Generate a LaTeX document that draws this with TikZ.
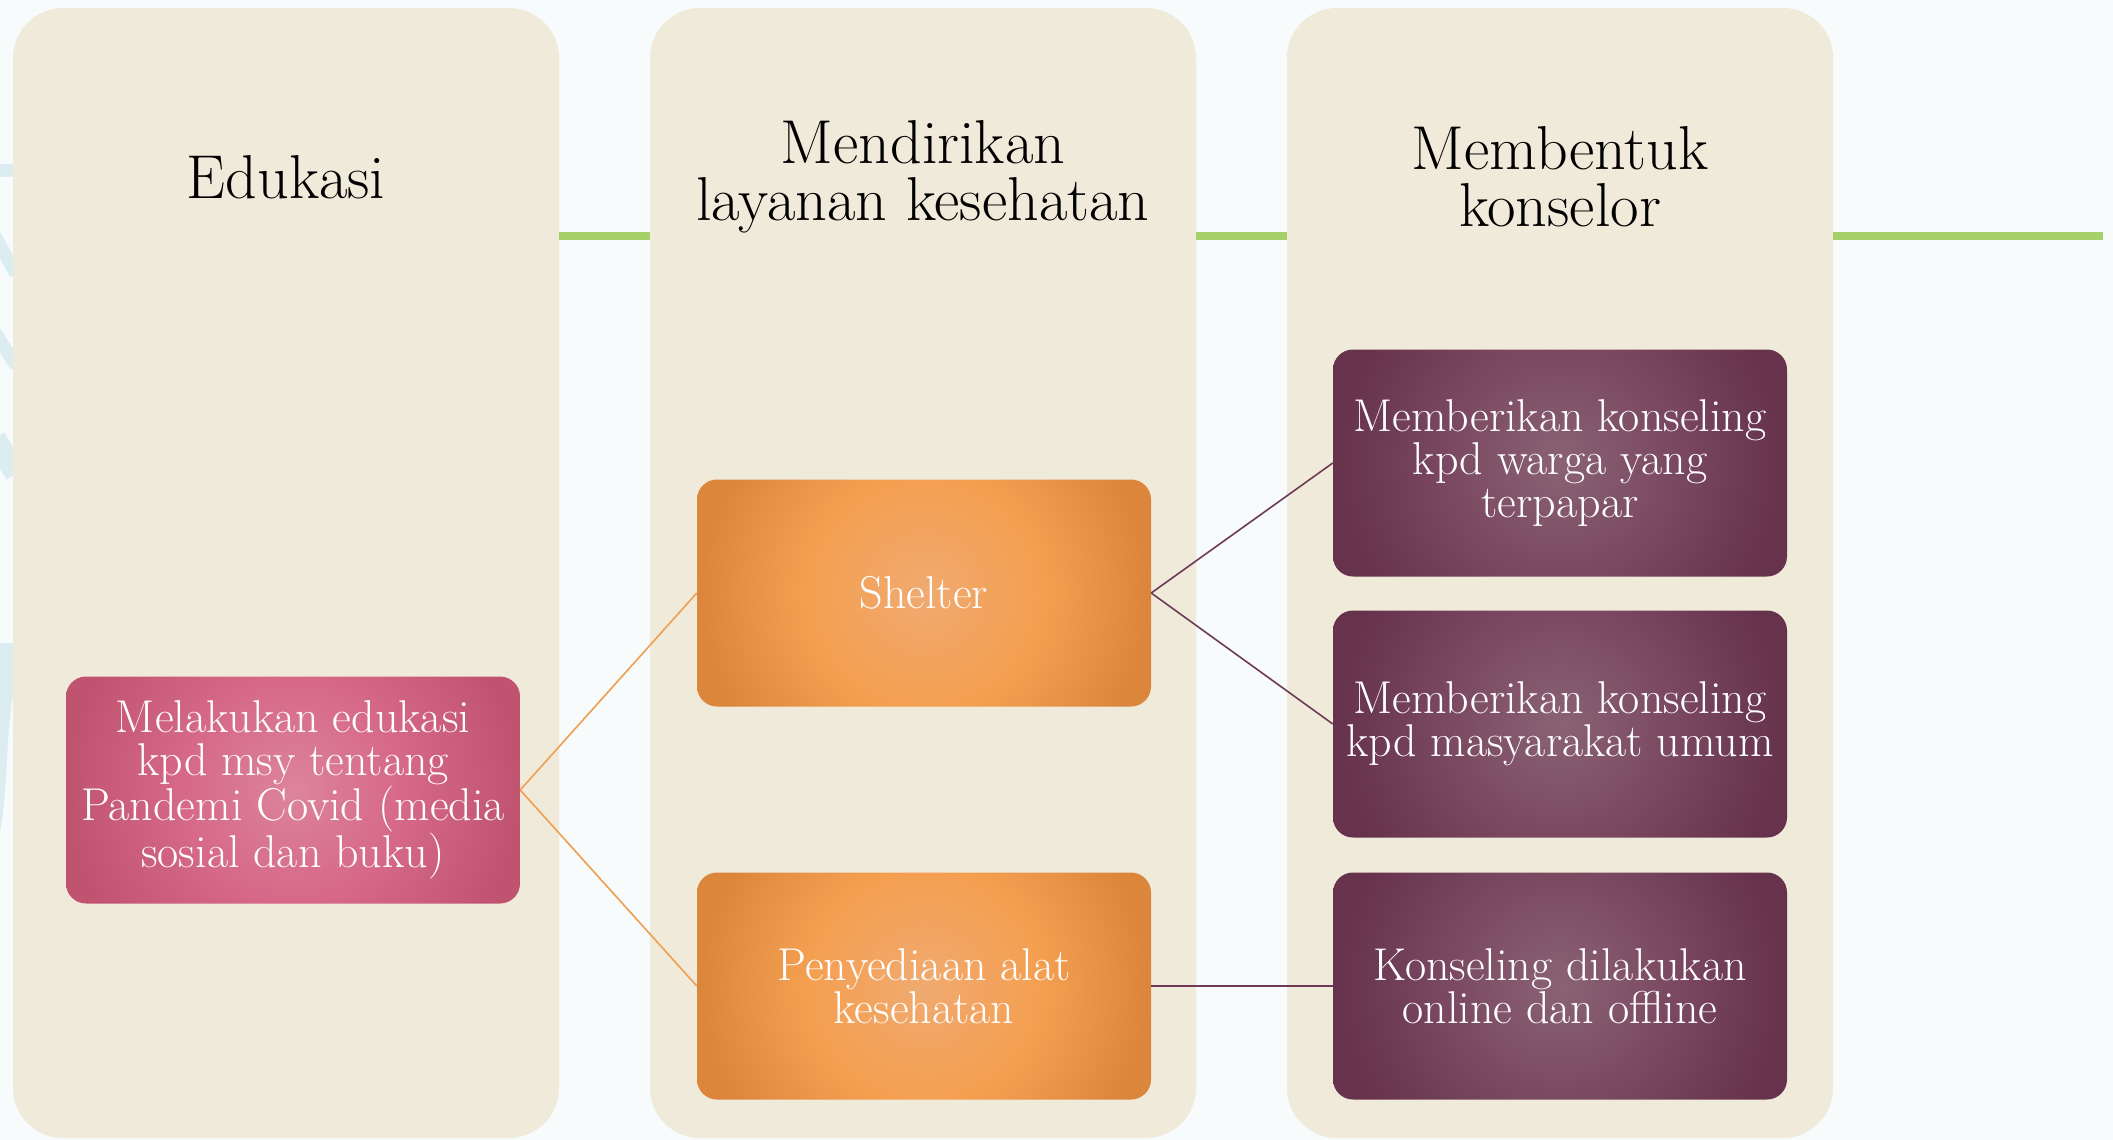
\documentclass[tikz,border=0pt]{standalone}
\usepackage{fontspec}
\usetikzlibrary{positioning}

\definecolor{bgcol}{RGB}{247,251,252}
\definecolor{panelcol}{RGB}{240,234,218}
\definecolor{linegreen}{RGB}{166,209,106}
\definecolor{decocol}{RGB}{219,237,241}
\definecolor{pinkedge}{RGB}{192,84,112}
\definecolor{pinkmid}{RGB}{214,104,136}
\definecolor{pinkcen}{RGB}{220,132,154}
\definecolor{oredge}{RGB}{220,134,60}
\definecolor{ormid}{RGB}{244,159,80}
\definecolor{orcen}{RGB}{240,170,112}
\definecolor{puedge}{RGB}{102,50,76}
\definecolor{pumid}{RGB}{122,72,96}
\definecolor{pucen}{RGB}{138,98,116}
\definecolor{orline}{RGB}{240,158,80}
\definecolor{puline}{RGB}{110,58,85}

\pgfdeclareradialshading{pinkglow}{\pgfpoint{0bp}{0bp}}{color(0bp)=(pinkcen); color(11bp)=(pinkmid); color(22bp)=(pinkedge); color(50bp)=(pinkedge)}
\pgfdeclareradialshading{orangeglow}{\pgfpoint{0bp}{0bp}}{color(0bp)=(orcen); color(11.5bp)=(ormid); color(22bp)=(oredge); color(50bp)=(oredge)}
\pgfdeclareradialshading{purpleglow}{\pgfpoint{0bp}{0bp}}{color(0bp)=(pucen); color(11.5bp)=(pumid); color(22bp)=(puedge); color(50bp)=(puedge)}

\begin{document}
\begin{tikzpicture}[
    x = 1pt,
    y = -1pt,
    panel/.style = {
      fill = panelcol,
      rounded corners = 50,
      minimum width = 546,
      minimum height = 1130,
      inner sep = 0pt
    },
    title/.style = {
      text = black,
      align = center,
      inner sep = 0pt,
      font = \fontsize{62}{57}\selectfont
    },
    glow/.style = {
      path picture = {
        \shade[shading = #1] (path picture bounding box.center) circle [radius = 254pt];
      }
    },
    box/.style = {
      rounded corners = 20,
      minimum width = 454,
      minimum height = 227,
      inner sep = 0pt,
      text = white,
      align = center,
      font = \fontsize{46}{43}\selectfont
    },
    pinkbox/.style = {box, glow = pinkglow},
    orbox/.style = {box, glow = orangeglow},
    pubox/.style = {box, glow = purpleglow},
    greenline/.style = {linegreen, line width = 8},
    deco/.style = {decocol, line width = 13}
  ]
  \useasboundingbox (0,0) rectangle (2113,1140);
  \fill[bgcol] (0,0) rectangle (2113,1140);

  % faint swirls at the left edge
  \scope
    \clip (0,0) rectangle (14,1140);
    \draw[deco] (-20,176) .. controls (0,170) .. (16,170);
    \draw[deco] (-5,236) -- (16,274);
    \draw[deco] (-5,332) -- (16,366);
    \draw[deco, line width = 22] (-5,438) -- (16,474);
    \fill[decocol] (-5,643) -- (16,643) -- (16,690) -- (14,690)
      .. controls (4,740) and (10,800) .. (-5,855) -- cycle;
  \endscope

  % columns
  \node[panel] (edu) at (286,573) {};
  \node[panel] (layanan) at (923,573) {};
  \node[panel] (konselor) at (1560,573) {};

  \coordinate (lineend) at (2103,236);
  \draw[greenline] (edu.east |- lineend) -- (layanan.west |- lineend);
  \draw[greenline] (layanan.east |- lineend) -- (konselor.west |- lineend);
  \draw[greenline] (konselor.east |- lineend) -- (lineend);

  \node[title] (edutitle) at (286,177) {Edukasi};
  \node[title] (laytitle) at (923,177) {Mendirikan\\layanan kesehatan};
  \node[title] (kontitle) at (1560,177) {Membentuk\\konselor};

  % boxes
  \node[pinkbox] (melakukan) at (293,790) {Melakukan edukasi\\kpd msy tentang\\Pandemi Covid (media\\sosial dan buku)};
  \node[orbox] (shelter) at (924,593) {Shelter};
  \node[orbox] (alat) at (924,986) {Penyediaan alat\\kesehatan};
  \node[pubox] (warga) at (1560,463) {Memberikan konseling\\kpd warga yang\\terpapar};
  \node[pubox] (umum) at (1560,724) {Memberikan konseling\\kpd masyarakat umum};
  \node[pubox] (online) at (1560,986) {Konseling dilakukan\\online dan offline};

  \draw[orline, line width = 1.6] (melakukan.east) -- (shelter.west);
  \draw[orline, line width = 1.6] (melakukan.east) -- (alat.west);
  \draw[puline, line width = 1.6] (shelter.east) -- (warga.west);
  \draw[puline, line width = 1.6] (shelter.east) -- (umum.west);
  \draw[puline, line width = 1.6] (alat.east) -- (online.west);
\end{tikzpicture}
\end{document}
